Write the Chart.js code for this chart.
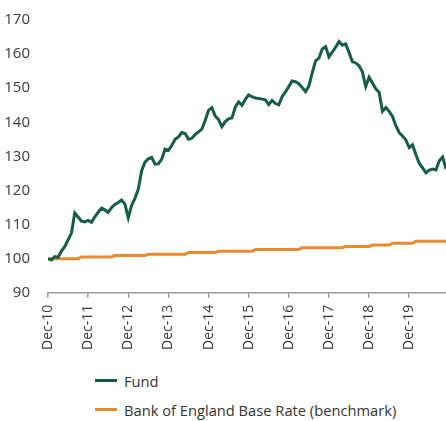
<!DOCTYPE html>
<html>
<head>
<meta charset="utf-8">
<script src="https://cdn.jsdelivr.net/npm/chart.js@4"></script>
<style>
  body { margin: 0; background: #fff; font-family: "Open Sans", sans-serif; }
  #wrap { position: relative; width: 446px; height: 360px; }
  #legend { margin: 6px 0 0 95px; color: #333; font-size: 14.7px; }
  .item { display: flex; align-items: center; height: 29px; }
  .swatch { width: 22px; height: 3px; margin-right: 7px; }
</style>
</head>
<body>
<div id="wrap"><canvas id="myChart"></canvas></div>
<div id="legend"></div>
<script>
const xLabels = ["Dec-10", "Dec-11", "Dec-12", "Dec-13", "Dec-14", "Dec-15", "Dec-16", "Dec-17", "Dec-18", "Dec-19"]

// monthly values, Dec-10 = month 0
const fund = [
  100, 99.6, 100.6, 100.4, 102.2, 103.5, 105.5, 107.5, 113.4, 112.2, 111, 110.8,
  111.2, 110.7, 112.3, 113.6, 114.8, 114.3, 113.6, 115, 115.9, 116.5, 117.2, 116,
  112, 115.6, 117.7, 120.4, 125.8, 128.3, 129.3, 129.7, 127.7, 127.8, 129.2, 132.1,
  131.8, 133.2, 135, 135.7, 137, 136.7, 135, 135.3, 136.4, 137.2, 138, 140.5,
  143.5, 144.3, 141.8, 140.8, 138.7, 140.2, 141, 141.3, 144.5, 146, 145, 146.7,
  148, 147.5, 147.1, 147, 146.8, 146.6, 145.2, 146.4, 145.5, 145.1, 147.5, 148.9,
  150.5, 152.1, 151.9, 151.3, 150.2, 149, 150.6, 154.5, 158, 158.8, 161.5, 162.2,
  159.2, 160.6, 162, 163.7, 162.6, 163, 160.5, 157.8, 157.4, 156.6, 154.8, 150.5,
  153.2, 151.5, 149.8, 148.8, 143.2, 144.3, 143.2, 141.7, 139, 137, 136, 134.8,
  132.6, 133.4, 130.5, 128, 126.6, 125.2, 126, 126.3, 126, 128.7, 129.8, 126.3
]
const benchmark = [
  100, 100, 100, 100, 100, 100, 100, 100, 100, 100, 100.5, 100.5,
  100.5, 100.5, 100.5, 100.5, 100.5, 100.5, 100.5, 100.5, 100.9, 100.9, 100.9, 100.9,
  100.9, 100.9, 100.9, 100.9, 100.9, 100.9, 101.3, 101.3, 101.3, 101.3, 101.3, 101.3,
  101.3, 101.3, 101.3, 101.3, 101.3, 101.3, 101.8, 101.8, 101.8, 101.8, 101.8, 101.8,
  101.8, 101.8, 101.8, 102.2, 102.2, 102.2, 102.2, 102.2, 102.2, 102.2, 102.2, 102.2,
  102.2, 102.2, 102.7, 102.7, 102.7, 102.7, 102.7, 102.7, 102.7, 102.7, 102.7, 102.7,
  102.7, 102.7, 102.7, 102.7, 103.2, 103.2, 103.2, 103.2, 103.2, 103.2, 103.2, 103.2,
  103.2, 103.2, 103.2, 103.2, 103.2, 103.6, 103.6, 103.6, 103.6, 103.6, 103.6, 103.6,
  103.6, 104, 104, 104, 104, 104, 104, 104.5, 104.5, 104.5, 104.5, 104.5,
  104.5, 104.5, 105.1, 105.1, 105.1, 105.1, 105.1, 105.1, 105.1, 105.1, 105.1, 105.1
]

const ctx = document.getElementById("myChart").getContext("2d")
Chart.defaults.font.family = "'Open Sans', sans-serif"
Chart.defaults.color = "#3a3a3a"

const chart = new Chart(ctx, {
    type: "line",
    data: {
        datasets: [{
            label: "Fund",
            data: fund.map((v, i) => ({ x: i, y: v })),
            borderColor: "#175c47",
            borderWidth: 3,
            pointRadius: 0,
            order: 1
        }, {
            label: "Bank of England Base Rate (benchmark)",
            data: benchmark.map((v, i) => ({ x: i, y: v })),
            borderColor: "#e88a30",
            borderWidth: 3,
            pointRadius: 0,
            order: 2
        }]
    },
    options: {
        responsive: true,
        maintainAspectRatio: false,
        animation: false,
        layout: { padding: { top: 20, right: 0, bottom: 3, left: 0 } },
        plugins: { legend: { display: false }, tooltip: { enabled: false } },
        scales: {
            x: {
                type: "linear",
                min: 0,
                max: 119,
                afterBuildTicks: s => { s.ticks = s.ticks.filter(t => t.value % 12 === 0) },
                ticks: {
                    stepSize: 12,
                    autoSkip: false,
                    minRotation: 90,
                    maxRotation: 90,
                    padding: 7,
                    font: { size: 14 },
                    callback: v => xLabels[v / 12]
                },
                grid: { drawOnChartArea: false, tickLength: 5, color: "#999", lineWidth: 1.5 },
                border: { color: "#999", width: 1.5 }
            },
            y: {
                min: 90,
                max: 170,
                afterFit: s => { s.width = 48 },
                ticks: { stepSize: 10, padding: 10, font: { size: 15 } },
                grid: { display: false },
                border: { display: false }
            }
        }
    }
})

document.getElementById("legend").innerHTML = chart.data.datasets.map(d =>
    `<div class="item"><span class="swatch" style="background:${d.borderColor}"></span>${d.label}</div>`
).join("")
</script>
</body>
</html>
